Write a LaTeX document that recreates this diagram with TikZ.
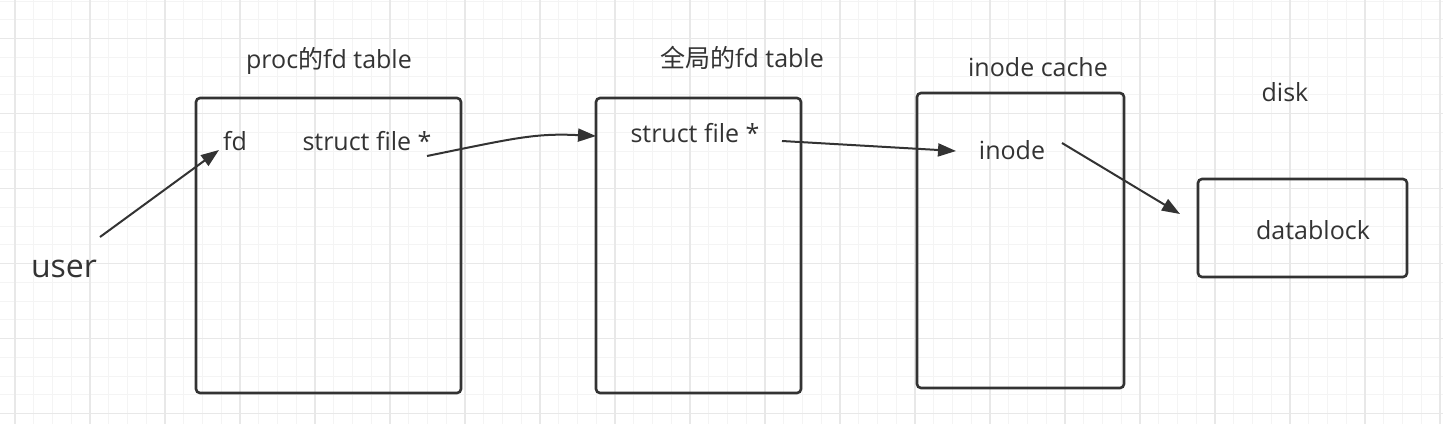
\documentclass[tikz,border=0pt]{standalone}
\usepackage{fontspec}
\setmainfont{Open Sans}
\newfontfamily\cjk{Noto Sans CJK SC}
\usetikzlibrary{arrows.meta}
\definecolor{ink}{HTML}{333333}
\definecolor{gridminor}{HTML}{F4F4F4}
\definecolor{gridmajor}{HTML}{E8E8E8}
\begin{document}
\begin{tikzpicture}[x=1pt,y=-1pt,
  box/.style={draw=ink,line width=2.6pt,rounded corners=4pt},
  lbl/.style={text=ink,font=\fontsize{25}{30}\selectfont,inner sep=0pt,anchor=base},
  conn/.style={draw=ink,line width=2pt,-{Triangle[length=18pt,width=13pt]}}]
\useasboundingbox (0,0) rectangle (1443,424);
\fill[white] (0,0) rectangle (1443,424);
% grid
\foreach \i in {0,...,78} {\draw[gridminor,line width=1pt] ({15+18.75*(\i-1)},0) -- ({15+18.75*(\i-1)},424);}
\foreach \j in {0,...,24} {\draw[gridminor,line width=1pt] (0,{38.5+18.75*(\j-2)}) -- (1443,{38.5+18.75*(\j-2)});}
\foreach \i in {0,...,20} {\draw[gridmajor,line width=1.2pt] ({15+75*\i},0) -- ({15+75*\i},424);}
\foreach \j in {0,...,6} {\draw[gridmajor,line width=1.2pt] (0,{38.5+75*\j}) -- (1443,{38.5+75*\j});}
% boxes
\draw[box] (196,98) rectangle (461,393);
\draw[box] (596,98) rectangle (801,393);
\draw[box] (917,93) rectangle (1124,388);
\draw[box] (1198,179) rectangle (1407,277);
% titles
\node[lbl] (t1) at (329,68) {proc{\cjk 的}fd table};
\node[lbl] (t2) at (742,67) {{\cjk 全局的}fd table};
\node[lbl] (t3) at (1038,76) {inode cache};
\node[lbl] (t4) at (1285,101) {disk};
% texts
\node[lbl] (fd) at (235,150) {fd};
\node[lbl] (sf1) at (367,150) {struct file *};
\node[lbl] (sf2) at (695,142) {struct file *};
\node[lbl] (ino) at (1012,159) {inode};
\node[lbl] (db) at (1313,239) {datablock};
\node[lbl,font=\fontsize{32}{38}\selectfont] (user) at (64,277) {user};
% connector endpoints
\coordinate (u0) at (100,237);
\coordinate (u1) at (219,150);
\coordinate (a0) at (427,156);
\coordinate (a1) at (596,136);
\coordinate (b0) at (782,141);
\coordinate (b1) at (956,151);
\coordinate (c0) at (1062,143);
\coordinate (c1) at (1180,214);
\draw[conn] (u0) -- (u1);
\draw[conn] (a0) .. controls (515,138) and (535,133) .. (a1);
\draw[conn] (b0) -- (b1);
\draw[conn] (c0) -- (c1);
\end{tikzpicture}
\end{document}
